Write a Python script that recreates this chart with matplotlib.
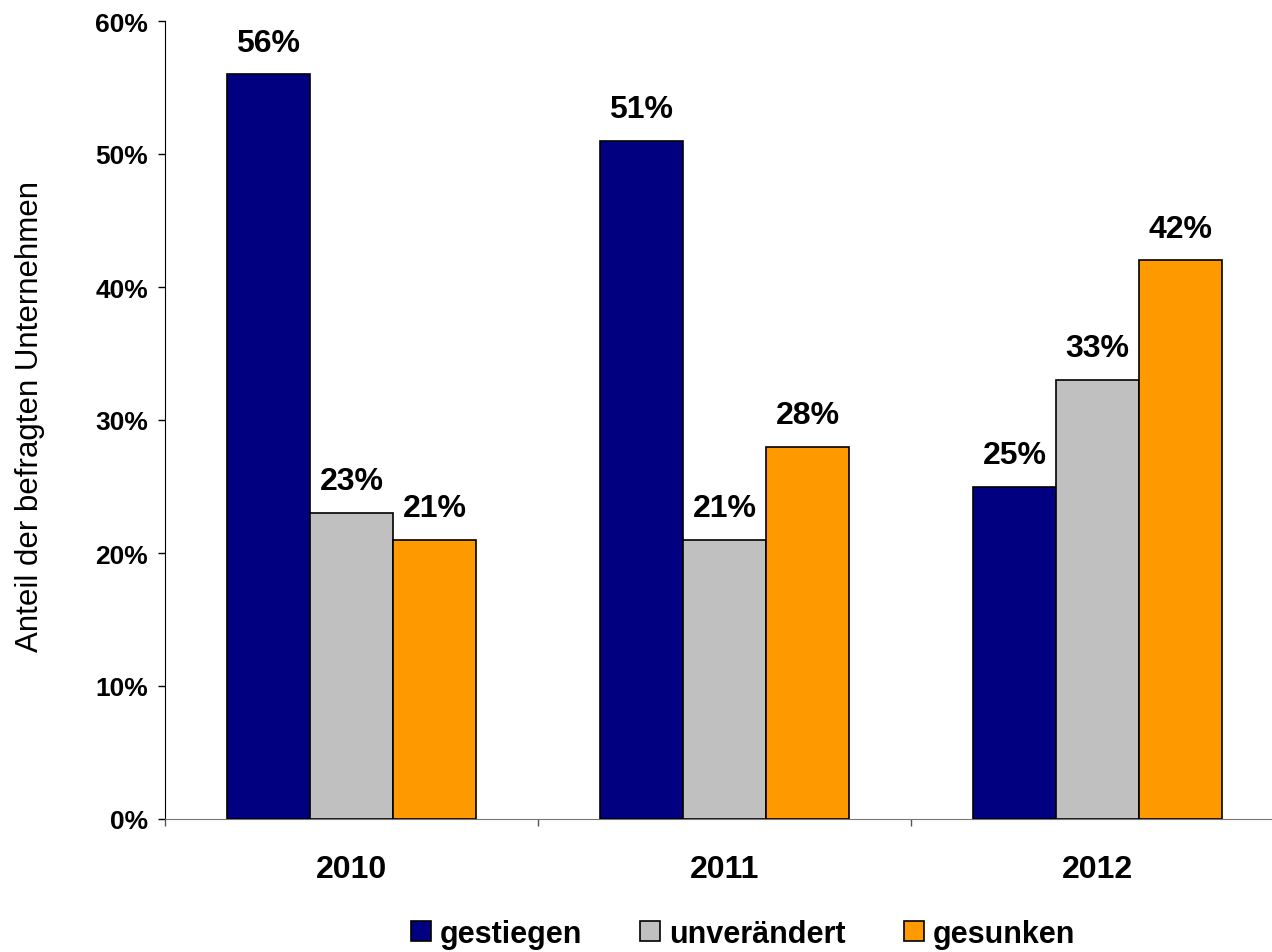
import numpy as np
import matplotlib.pyplot as plt
from matplotlib.ticker import FuncFormatter

plt.rcParams['font.family'] = ['Liberation Sans', 'DejaVu Sans']

years = ['2010', '2011', '2012']
series = ['gestiegen', 'unverändert', 'gesunken']
gestiegen = [56, 51, 25]
unveraendert = [23, 21, 33]
gesunken = [21, 28, 42]
colors = ['#000080', '#C0C0C0', '#FF9900']

fig = plt.figure(figsize=(12.72, 9.53), dpi=100)
ax = fig.add_axes([165/1272, 1 - 820/953, (1284 - 165)/1272, (820 - 22)/953])

x = np.arange(len(years))
w = 0.2225
for k, (vals, name) in enumerate(zip([gestiegen, unveraendert, gesunken], series)):
    bars = ax.bar(x + (k - 1) * w, vals, w, color=colors[k], edgecolor='black',
                  linewidth=1.2, label=name, zorder=3)
    for b, v in zip(bars, vals):
        ax.annotate(f'{v}%', (b.get_x() + b.get_width() / 2, v),
                    xytext=(0, 12), textcoords='offset points',
                    ha='center', va='bottom', fontsize=23, fontweight='bold')

ax.set_xlim(-0.5, 2.5)
ax.set_ylim(0, 60)
ax.set_yticks(range(0, 61, 10))
ax.yaxis.set_major_formatter(FuncFormatter(lambda v, p: f'{int(v)}%'))
ax.tick_params(axis='y', labelsize=19, length=5, width=1, pad=7)
for t in ax.get_yticklabels():
    t.set_fontweight('bold')

ax.set_xticks([-0.5, 0.5, 1.5, 2.5])
ax.set_xticklabels([])
ax.tick_params(axis='x', which='major', length=5, width=1, color='#555555')
ax.set_xticks(x, minor=True)
ax.set_xticklabels(years, minor=True, fontsize=23, fontweight='bold')
ax.tick_params(axis='x', which='minor', length=0, pad=25)

ax.spines['right'].set_visible(False)
ax.spines['top'].set_visible(False)
ax.spines['bottom'].set_color('#777777')
ax.spines['left'].set_color('black')

fig.text(30/1272, 1 - 417/953, 'Anteil der befragten Unternehmen', rotation=90,
         ha='center', va='center', fontsize=22.5)

fig.legend(loc='center', bbox_to_anchor=(743/1272, 1 - 935/953), ncol=3,
           frameon=False, prop={'weight': 'bold', 'size': 22},
           handlelength=0.65, handleheight=0.65, handletextpad=0.3,
           columnspacing=1.9)

fig.savefig('out.png', dpi=100)
